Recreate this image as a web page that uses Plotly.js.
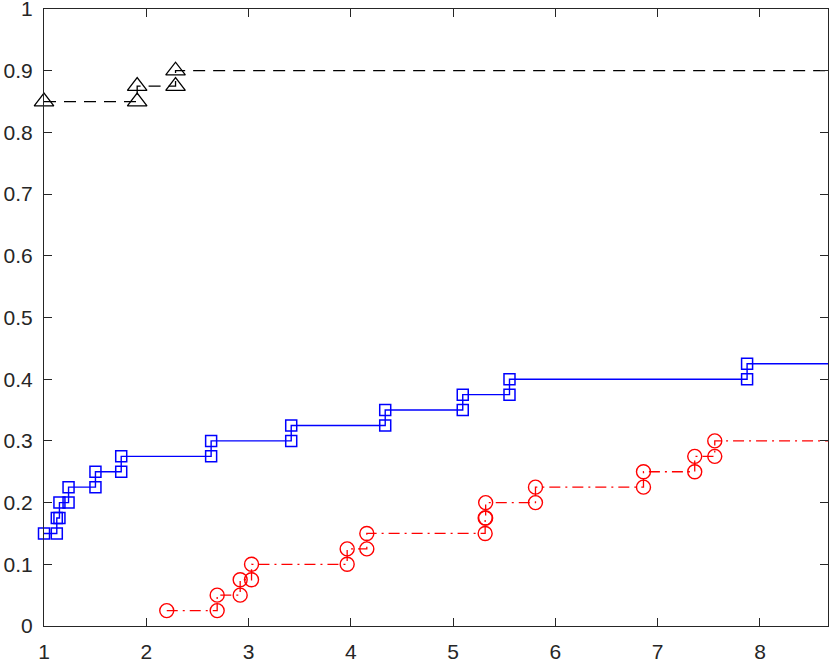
<!DOCTYPE html>
<html>
<head>
<meta charset="utf-8">
<script src="https://cdn.plot.ly/plotly-3.0.1.min.js"></script>
<style>html,body{margin:0;padding:0;background:#fff;}#chart{width:830px;height:664px;}</style>
</head>
<body>
<div id="chart"></div>
<script>
// Step points (x where each level starts, and the level)
const blackX = [1, 1.911, 2.286];
const blackY = [0.85, 0.875, 0.9];
const blueX = [1, 1.125, 1.151, 1.240, 1.503, 1.755, 2.634, 3.417, 4.336, 5.094, 5.551, 7.874];
const blueY = [0.15, 0.175, 0.2, 0.225, 0.25, 0.275, 0.3, 0.325, 0.35, 0.375, 0.4, 0.425];
const redX = [2.200, 2.693, 2.918, 3.029, 3.964, 4.156, 5.313, 5.318, 5.805, 6.861, 7.362, 7.558];
const redY = [0.025, 0.05, 0.075, 0.1, 0.125, 0.15, 0.175, 0.2, 0.225, 0.25, 0.275, 0.3];
const endX = 9.5; // last level continues past the right edge
const xTicks = [1, 2, 3, 4, 5, 6, 7, 8];
const yTicks = [0, 0.1, 0.2, 0.3, 0.4, 0.5, 0.6, 0.7, 0.8, 0.9, 1];

function stairs(xs, ys, xe) {
  const X = [], Y = [];
  for (let i = 0; i < xs.length; i++) {
    X.push(xs[i]); Y.push(ys[i]);
    const nx = (i < xs.length - 1) ? xs[i + 1] : xe;
    X.push(nx); Y.push(ys[i]);
  }
  return {X, Y};
}

const b = stairs(blackX, blackY, endX);
const u = stairs(blueX, blueY, endX);
const r = stairs(redX, redY, endX);

const traces = [
  {x: b.X, y: b.Y, type: 'scatter', mode: 'lines+markers', cliponaxis: false,
   line: {color: '#000000', width: 1.3, dash: '12px,8px'},
   marker: {symbol: 'triangle-up-open', size: 17, color: '#000000', line: {width: 1.3, color: '#000000'}}},
  {x: u.X, y: u.Y, type: 'scatter', mode: 'lines+markers', cliponaxis: false,
   line: {color: '#0000ff', width: 1.4},
   marker: {symbol: 'square-open', size: 11, color: '#0000ff', line: {width: 1.5, color: '#0000ff'}}},
  {x: r.X, y: r.Y, type: 'scatter', mode: 'lines+markers', cliponaxis: false,
   line: {color: '#ff0000', width: 1.3, dash: '11px,5px,2px,5px'},
   marker: {symbol: 'circle-open', size: 14, color: '#ff0000', line: {width: 1.4, color: '#ff0000'}}}
];

const axisCommon = {
  showline: true, mirror: 'ticks', linecolor: '#262626', linewidth: 1,
  ticks: 'inside', ticklen: 8, tickwidth: 1, tickcolor: '#262626',
  showgrid: false, zeroline: false, ticklabeloverflow: 'allow',
  tickfont: {family: 'Liberation Sans, Arial, sans-serif', size: 21, color: '#262626'}
};

const layout = {
  width: 830, height: 664,
  margin: {l: 44, r: 2, t: 9, b: 38, pad: 0},
  paper_bgcolor: '#ffffff', plot_bgcolor: '#ffffff',
  showlegend: false,
  xaxis: Object.assign({}, axisCommon, {range: [1, 8.665], tickmode: 'array', tickvals: xTicks, ticktext: xTicks.map(String), ticklabelstandoff: 7}),
  yaxis: Object.assign({}, axisCommon, {range: [0, 1], tickmode: 'array', tickvals: yTicks, ticktext: yTicks.map(String), ticklabelstandoff: 6})
};

Plotly.newPlot('chart', traces, layout, {displayModeBar: false, staticPlot: true});
</script>
</body>
</html>
